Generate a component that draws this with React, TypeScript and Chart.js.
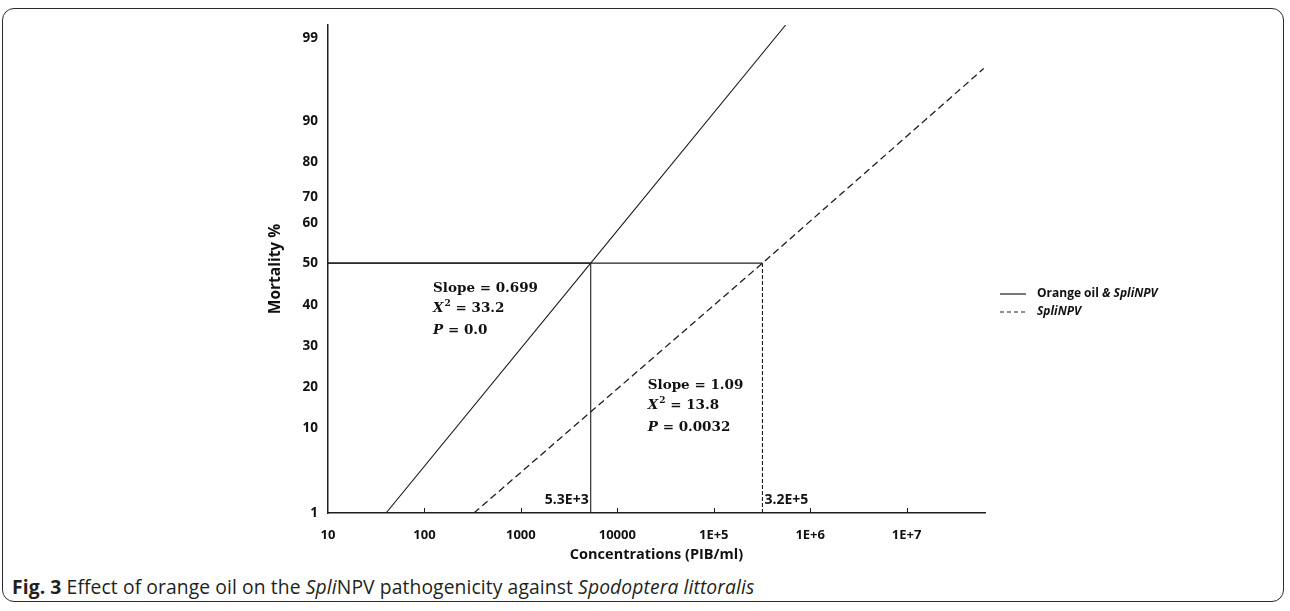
import React, { useEffect, useRef } from "react";
import { Chart, registerables, LinearScale } from "chart.js";

// ---------- data ----------
const xTickValues = [10, 100, 1000, 10000, 1e5, 1e6, 1e7];
const xTickLabels = ["10", "100", "1000", "10000", "1E+5", "1E+6", "1E+7"];
const yTickValues = [1, 10, 20, 30, 40, 50, 60, 70, 80, 90, 99];

// probit-like mortality axis: anchor value -> fraction of axis height
const mortalityAnchors = [1, 10, 20, 30, 40, 50, 60, 70, 80, 90, 99, 100];
const mortalityFractions = [0, 0.174, 0.258, 0.342, 0.426, 0.512, 0.594, 0.648, 0.719, 0.803, 0.973, 1];

const orangeConc = [40, 5300, 557000];
const orangeMort = [1, 50, 100];
const npvConc = [326, 320000, 63000000];
const npvMort = [1, 50, 95.7];

const lc50Orange = 5300;
const lc50Npv = 320000;
const xMin = 10;
const xMax = 65000000;

const statsOrange = ["Slope = 0.699", "X2 = 33.2", "P = 0.0"];
const statsNpv = ["Slope = 1.09", "X2 = 13.8", "P = 0.0032"];

class MortalityScale extends LinearScale {
  static id = "mortality";
  static defaults = LinearScale.defaults;
  buildTicks() {
    return yTickValues.map((v) => ({ value: v }));
  }
  getPixelForValue(value: number) {
    const a = mortalityAnchors;
    const f = mortalityFractions;
    let frac = 0;
    if (value <= a[0]) frac = f[0];
    else if (value >= a[a.length - 1]) frac = f[f.length - 1];
    else {
      for (let i = 0; i < a.length - 1; i++) {
        if (value >= a[i] && value <= a[i + 1]) {
          frac = f[i] + ((value - a[i]) / (a[i + 1] - a[i])) * (f[i + 1] - f[i]);
          break;
        }
      }
    }
    return this.getPixelForDecimal(frac);
  }
  getValueForPixel(pixel: number) {
    const d = this.getDecimalForPixel(pixel);
    const a = mortalityAnchors;
    const f = mortalityFractions;
    for (let i = 0; i < f.length - 1; i++) {
      if (d >= f[i] && d <= f[i + 1]) {
        return a[i] + ((d - f[i]) / (f[i + 1] - f[i])) * (a[i + 1] - a[i]);
      }
    }
    return d <= 0 ? a[0] : a[a.length - 1];
  }
}

Chart.register(...registerables, MortalityScale);

const INK = "#1e1e1e";
const SANS = "'Open Sans', sans-serif";
const SERIF = "'DejaVu Serif', serif";

const annotations = [
  { x: 123, y: 43.2, lines: statsOrange },
  { x: 20700, y: 19.6, lines: statsNpv },
];

const overlayPlugin = {
  id: "overlay",
  afterDatasetsDraw(chart: any) {
    const ctx = chart.ctx;
    const xs = chart.scales.x;
    const ys = chart.scales.y;
    const area = chart.chartArea;
    ctx.save();
    // inward x tick marks
    ctx.strokeStyle = INK;
    ctx.lineWidth = 1;
    xTickValues.slice(1).forEach((v) => {
      const px = Math.round(xs.getPixelForValue(v)) + 0.5;
      ctx.beginPath();
      ctx.moveTo(px, area.bottom);
      ctx.lineTo(px, area.bottom - 5);
      ctx.stroke();
    });
    // LC50 labels
    ctx.fillStyle = "#111";
    ctx.font = `bold 14px ${SANS}`;
    ctx.textBaseline = "alphabetic";
    ctx.textAlign = "right";
    ctx.fillText("5.3E+3", xs.getPixelForValue(lc50Orange) - 2, area.bottom - 9);
    ctx.textAlign = "left";
    ctx.fillText("3.2E+5", xs.getPixelForValue(lc50Npv) + 2, area.bottom - 9);
    // statistics annotations
    annotations.forEach((an) => {
      const px = xs.getPixelForValue(an.x);
      const py = ys.getPixelForValue(an.y);
      const gaps = [0, 20, 42];
      an.lines.forEach((t, i) => {
        const y = py + gaps[i];
        ctx.textAlign = "left";
        if (i === 0) {
          ctx.font = `bold 13.5px ${SERIF}`;
          ctx.fillText(t, px, y);
        } else {
          const first = t.charAt(0);
          let rest = t.slice(1);
          ctx.font = `italic bold 13.5px ${SERIF}`;
          ctx.fillText(first, px, y);
          let w = ctx.measureText(first).width;
          if (i === 1) {
            ctx.font = `bold 9px ${SERIF}`;
            ctx.fillText("2", px + w + 1, y - 6);
            w += ctx.measureText("2").width + 1;
            rest = rest.slice(1);
          }
          ctx.font = `bold 13.5px ${SERIF}`;
          ctx.fillText(rest, px + w, y);
        }
      });
    });
    // legend
    const lx = 1000;
    const ly1 = 294;
    const ly2 = 312;
    ctx.strokeStyle = INK;
    ctx.lineWidth = 1.2;
    ctx.beginPath();
    ctx.moveTo(lx, ly1);
    ctx.lineTo(lx + 26, ly1);
    ctx.stroke();
    ctx.setLineDash([4, 3]);
    ctx.beginPath();
    ctx.moveTo(lx, ly2);
    ctx.lineTo(lx + 26, ly2);
    ctx.stroke();
    ctx.setLineDash([]);
    ctx.textBaseline = "middle";
    ctx.font = `bold 12px ${SANS}`;
    ctx.fillText("Orange oil ", lx + 37, ly1);
    const w1 = ctx.measureText("Orange oil ").width;
    ctx.font = `italic bold 12px ${SANS}`;
    ctx.fillText("& SpliNPV", lx + 37 + w1, ly1);
    ctx.fillText("SpliNPV", lx + 37, ly2);
    ctx.restore();
  },
};

export default function App() {
  const ref = useRef<HTMLCanvasElement | null>(null);
  useEffect(() => {
    if (!ref.current) return;
    const pts = (xs: number[], ys: number[]) => xs.map((x, i) => ({ x, y: ys[i] }));
    const chart = new Chart(ref.current, {
      type: "line",
      data: {
        datasets: [
          {
            label: "Orange oil & SpliNPV",
            data: pts(orangeConc, orangeMort),
            borderColor: INK,
            borderWidth: 1.1,
            pointRadius: 0,
          },
          {
            label: "SpliNPV",
            data: pts(npvConc, npvMort),
            borderColor: INK,
            borderWidth: 1.3,
            borderDash: [7, 4],
            pointRadius: 0,
          },
          {
            label: "LC50 h1",
            data: pts([xMin, lc50Orange], [50, 50]),
            borderColor: INK,
            borderWidth: 1.2,
            pointRadius: 0,
          },
          {
            label: "LC50 h2",
            data: pts([xMin, lc50Npv], [50, 50]),
            borderColor: INK,
            borderWidth: 1.1,
            pointRadius: 0,
          },
          {
            label: "LC50 v1",
            data: pts([lc50Orange, lc50Orange], [1, 50]),
            borderColor: INK,
            borderWidth: 1.1,
            pointRadius: 0,
          },
          {
            label: "LC50 v2",
            data: pts([lc50Npv, lc50Npv], [1, 50]),
            borderColor: INK,
            borderWidth: 1.1,
            borderDash: [4, 2],
            pointRadius: 0,
          },
        ],
      },
      options: {
        animation: false,
        responsive: false,
        events: [],
        layout: { padding: { left: 258, top: 25, right: 1290 - 985, bottom: 6 } },
        plugins: { legend: { display: false }, tooltip: { enabled: false } },
        scales: {
          x: {
            type: "logarithmic",
            min: xMin,
            max: xMax,
            afterBuildTicks: (s: any) => {
              s.ticks = xTickValues.map((v) => ({ value: v }));
            },
            afterFit: (s: any) => {
              s.height = 51;
            },
            border: { display: true, color: INK, width: 1.5 },
            grid: { display: false, drawTicks: false },
            ticks: {
              autoSkip: false,
              maxRotation: 0,
              padding: 14,
              color: "#111",
              font: { family: SANS, size: 13, weight: "bold" },
              callback: (v: any, i: number) => xTickLabels[i],
            },
            title: {
              display: true,
              text: "Concentrations (PIB/ml)",
              color: "#111",
              padding: { top: 0, bottom: 0 },
              font: { family: SANS, size: 14.5, weight: "bold" },
            },
          },
          y: {
            type: "mortality" as any,
            min: 1,
            max: 100,
            afterFit: (s: any) => {
              s.width = 70;
            },
            border: { display: true, color: INK, width: 1.5 },
            grid: { display: false, drawTicks: false },
            ticks: {
              autoSkip: false,
              padding: 10,
              color: "#111",
              font: { family: SANS, size: 13.5, weight: "bold" },
              callback: (v: any) => String(v),
            },
            title: {
              display: true,
              text: "Mortality %",
              color: "#111",
              padding: { top: 8, bottom: 0 },
              font: { family: SANS, size: 15.5, weight: "bold" },
            },
          },
        },
      },
      plugins: [overlayPlugin],
    } as any);
    return () => chart.destroy();
  }, []);

  return (
    <div style={{ position: "absolute", left: 0, top: 0, width: 1290, height: 611, background: "#fff" }}>
      <div
        style={{
          position: "absolute",
          left: 2,
          top: 8,
          width: 1280,
          height: 592,
          border: "1.5px solid #2a2a2a",
          borderRadius: 12,
        }}
      />
      <canvas ref={ref} width={1290} height={570} style={{ position: "absolute", left: 0, top: 0 }} />
      <div
        style={{
          position: "absolute",
          left: 12,
          top: 576,
          fontFamily: SANS,
          fontSize: 19.3,
          lineHeight: "22px",
          color: "#231f20",
          whiteSpace: "nowrap",
          letterSpacing: 0.1,
        }}
      >
        <b>Fig. 3</b> Effect of orange oil on the <i>Spli</i>NPV pathogenicity against <i>Spodoptera littoralis</i>
      </div>
    </div>
  );
}
